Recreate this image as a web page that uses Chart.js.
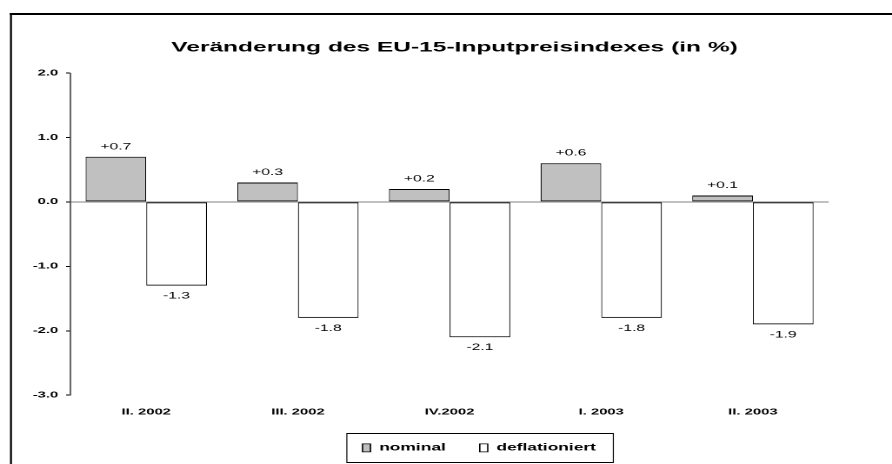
<!DOCTYPE html>
<html>
<head>
<meta charset="utf-8">
<script src="https://cdn.jsdelivr.net/npm/chart.js@4"></script>
<style>
  html, body { margin: 0; padding: 0; background: #fff; overflow: hidden; }
  /* the reference is stretched sideways, so draw narrow and stretch */
  #wrap { width: 513px; height: 464px; transform: scaleX(1.7388); transform-origin: 0 0; }
</style>
</head>
<body>
<div id="wrap"><canvas id="chart" width="513" height="464"></canvas></div>
<script>
const quartale = ['II. 2002', 'III. 2002', 'IV.2002', 'I. 2003', 'II. 2003'];
const nominal = [0.7, 0.3, 0.2, 0.6, 0.1];
const deflationiert = [-1.3, -1.8, -2.1, -1.8, -1.9];
const yTicks = [2, 1, 0, -1, -2, -3];

const FONT = 'Liberation Sans, Arial, sans-serif';
const barBorder = { left: 0.6, right: 0.6, top: 1, bottom: 1 };

// outer frame (right and bottom lie outside the picture)
const frame = {
  id: 'frame',
  beforeDraw(chart) {
    const ctx = chart.ctx;
    ctx.save();
    ctx.strokeStyle = '#000';
    ctx.lineWidth = 2;
    ctx.beginPath();
    ctx.moveTo(5.6, 14);
    ctx.lineTo(chart.width, 14);
    ctx.stroke();
    ctx.lineWidth = 1.15;
    ctx.beginPath();
    ctx.moveTo(6.3, 13);
    ctx.lineTo(6.3, chart.height);
    ctx.stroke();
    ctx.restore();
  }
};

// title and legend are not centred on the plot in the original
const nudge = {
  id: 'nudge',
  afterLayout(chart) {
    const shift = (box, centre) => {
      const dx = centre - (box.left + box.right) / 2;
      box.left += dx;
      box.right += dx;
    };
    shift(chart.titleBlock, 261.4);
    shift(chart.legend, 275.6);
  }
};

const legendFrame = {
  id: 'legendFrame',
  afterDraw(chart) {
    const lg = chart.legend;
    const pad = lg.options.labels.padding;
    const w = lg.lineWidths[0] - pad;
    const x0 = (lg.left + pad + lg.right - lg.lineWidths[0]) / 2 - 9;
    const x1 = x0 + w + 19;
    const ctx = chart.ctx;
    ctx.save();
    ctx.strokeStyle = '#000';
    ctx.lineWidth = 1;
    ctx.beginPath();
    ctx.moveTo(x0, 433.5); ctx.lineTo(x1, 433.5);
    ctx.moveTo(x0, 462.5); ctx.lineTo(x1, 462.5);
    ctx.stroke();
    ctx.lineWidth = 0.6;
    ctx.beginPath();
    ctx.moveTo(x0, 433); ctx.lineTo(x0, 463);
    ctx.moveTo(x1, 433); ctx.lineTo(x1, 463);
    ctx.stroke();
    ctx.restore();
  }
};

const valueLabels = {
  id: 'valueLabels',
  afterDatasetsDraw(chart) {
    const ctx = chart.ctx;
    ctx.save();
    ctx.font = '9px ' + FONT;
    ctx.fillStyle = '#000';
    ctx.textAlign = 'center';
    ctx.textBaseline = 'middle';
    chart.data.datasets.forEach((ds, i) => {
      chart.getDatasetMeta(i).data.forEach((bar, j) => {
        const v = ds.data[j];
        const txt = v > 0 ? '+' + v.toFixed(1) : v.toFixed(1);
        ctx.fillText(txt, bar.x, v >= 0 ? bar.y - 10 : bar.y + 10.5);
      });
    });
    ctx.restore();
  }
};

new Chart(document.getElementById('chart'), {
  type: 'bar',
  data: {
    labels: quartale,
    datasets: [
      {
        label: 'nominal',
        data: nominal,
        backgroundColor: '#c0c0c0',
        borderColor: '#000',
        borderWidth: barBorder,
        borderSkipped: false
      },
      {
        label: 'deflationiert',
        data: deflationiert,
        backgroundColor: '#fff',
        borderColor: '#000',
        borderWidth: barBorder,
        borderSkipped: false
      }
    ]
  },
  options: {
    responsive: false,
    devicePixelRatio: 2,
    animation: false,
    layout: { padding: { top: 39.3, right: 36.4, bottom: 1.1, left: 0 } },
    datasets: { bar: { categoryPercentage: 0.8, barPercentage: 1.0 } },
    plugins: {
      title: {
        display: true,
        text: 'Veränderung des EU-15-Inputpreisindexes (in %)',
        color: '#000',
        font: { family: FONT, size: 14.1, weight: 'bold', lineHeight: 1.2 },
        padding: { top: 0, bottom: 16.8 }
      },
      legend: {
        position: 'bottom',
        labels: {
          color: '#000',
          font: { family: FONT, size: 10, weight: 'bold' },
          boxWidth: 4.6,
          boxHeight: 8,
          padding: 19.5
        }
      },
      tooltip: { enabled: false }
    },
    scales: {
      x: {
        grid: { display: false, drawTicks: false },
        border: { display: false },
        ticks: {
          color: '#000',
          font: { family: FONT, size: 8.5, weight: 'bold' },
          padding: 12,
          maxRotation: 0,
          autoSkip: false
        },
        afterFit: (s) => { s.height = 28.2; }
      },
      y: {
        min: Math.min(...yTicks),
        max: Math.max(...yTicks),
        afterBuildTicks: (s) => { s.ticks = yTicks.map(v => ({ value: v })); },
        grid: {
          color: (c) => c.tick && c.tick.value === 0 ? '#808080' : 'rgba(0,0,0,0)',
          tickColor: '#000',
          tickLength: 2.5,
          lineWidth: 1
        },
        border: { display: true, color: '#000', width: 0.6 },
        ticks: {
          color: '#000',
          font: { family: FONT, size: 8.5, weight: 'bold' },
          padding: 4.5,
          callback: (v) => Number(v).toFixed(1)
        },
        afterFit: (s) => { s.width = 40.5; }
      }
    }
  },
  plugins: [frame, nudge, legendFrame, valueLabels]
});
</script>
</body>
</html>
